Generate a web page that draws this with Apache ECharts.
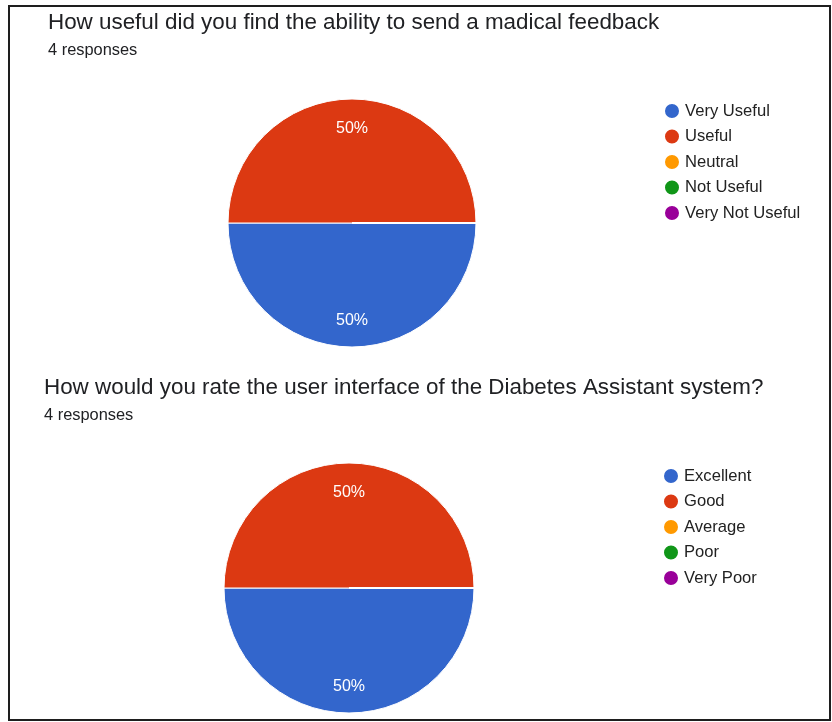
<!DOCTYPE html>
<html>
<head>
<meta charset="utf-8">
<title>Survey results</title>
<script src="https://cdn.jsdelivr.net/npm/echarts@6/dist/echarts.min.js"></script>
<style>
  html, body { margin: 0; padding: 0; background: #fff; }
  #chart { width: 832px; height: 722px; }
</style>
</head>
<body>
<div id="chart"></div>
<script>
// Question 1: usefulness of medical feedback
const q1Title = 'How useful did you find the ability to send a madical feedback';
const q1Responses = '4 responses';
const q1Categories = ['Very Useful', 'Useful', 'Neutral', 'Not Useful', 'Very Not Useful'];
const q1Counts = [2, 2, 0, 0, 0];

// Question 2: rating of the user interface
const q2Title = 'How would you rate the user interface of the Diabetes Assistant system?';
const q2Responses = '4 responses';
const q2Categories = ['Excellent', 'Good', 'Average', 'Poor', 'Very Poor'];
const q2Counts = [2, 2, 0, 0, 0];

const palette = ['#3366cc', '#dc3912', '#ff9900', '#109618', '#990099'];
const FONT = '"Liberation Sans", Arial, sans-serif';

function toData(names, counts) {
  return names.map((n, i) => ({ name: n, value: counts[i], itemStyle: { color: palette[i] } }));
}

function pctLabel(p) {
  return p.value > 0 ? Math.round(p.percent) + '%' : '';
}

// Solid pie slices
function pieSeries(names, counts, center, radius) {
  return {
    type: 'pie',
    center: center,
    radius: [0, radius],
    startAngle: 0,
    clockwise: true,
    silent: true,
    data: toData(names, counts),
    itemStyle: { borderColor: '#ffffff', borderWidth: 1 },
    label: { show: false },
    labelLine: { show: false }
  };
}

// Transparent companion pie so percentages sit near the rim
function labelSeries(names, counts, center, radius) {
  return {
    type: 'pie',
    center: center,
    radius: [0, radius],
    startAngle: 0,
    clockwise: true,
    silent: true,
    z: 3,
    data: names.map((n, i) => ({ name: n, value: counts[i] })),
    itemStyle: { color: 'rgba(0,0,0,0)', borderWidth: 0 },
    label: {
      show: true,
      position: 'inside',
      formatter: pctLabel,
      color: '#ffffff',
      fontFamily: FONT,
      fontSize: 16,
      offset: [0, 2]
    },
    labelLine: { show: false }
  };
}

function legend(names, left, top) {
  return {
    orient: 'vertical',
    left: left,
    top: top,
    data: names,
    icon: 'circle',
    itemWidth: 16,
    itemHeight: 16,
    itemGap: 7.5,
    padding: 0,
    selectedMode: false,
    textStyle: { color: '#222222', fontFamily: FONT, fontSize: 16.6, lineHeight: 16, height: 16 }
  };
}

const chart = echarts.init(document.getElementById('chart'), null, { renderer: 'canvas' });

chart.setOption({
  backgroundColor: '#ffffff',
  animation: false,
  title: [
    {
      text: q1Title,
      subtext: q1Responses,
      left: 48,
      top: 10,
      padding: 0,
      itemGap: 4,
      textStyle: { color: '#202124', fontFamily: FONT, fontSize: 22.4, fontWeight: 'normal', lineHeight: 26 },
      subtextStyle: { color: '#202124', fontFamily: FONT, fontSize: 16.4, lineHeight: 20 }
    },
    {
      text: q2Title,
      subtext: q2Responses,
      left: 44,
      top: 375,
      padding: 0,
      itemGap: 4,
      textStyle: { color: '#202124', fontFamily: FONT, fontSize: 22.4, fontWeight: 'normal', lineHeight: 26 },
      subtextStyle: { color: '#202124', fontFamily: FONT, fontSize: 16.4, lineHeight: 20 }
    }
  ],
  legend: [
    legend(q1Categories, 663, 102),
    legend(q2Categories, 662, 467)
  ],
  series: [
    pieSeries(q1Categories, q1Counts, [352, 223], 124),
    labelSeries(q1Categories, q1Counts, [352, 223], 186),
    pieSeries(q2Categories, q2Counts, [349, 588], 125),
    labelSeries(q2Categories, q2Counts, [349, 588], 188)
  ],
  graphic: [
    {
      type: 'rect',
      shape: { x: 9, y: 6, width: 821, height: 714 },
      style: { fill: 'none', stroke: '#1e1e1e', lineWidth: 2 },
      silent: true
    }
  ]
});
</script>
</body>
</html>
